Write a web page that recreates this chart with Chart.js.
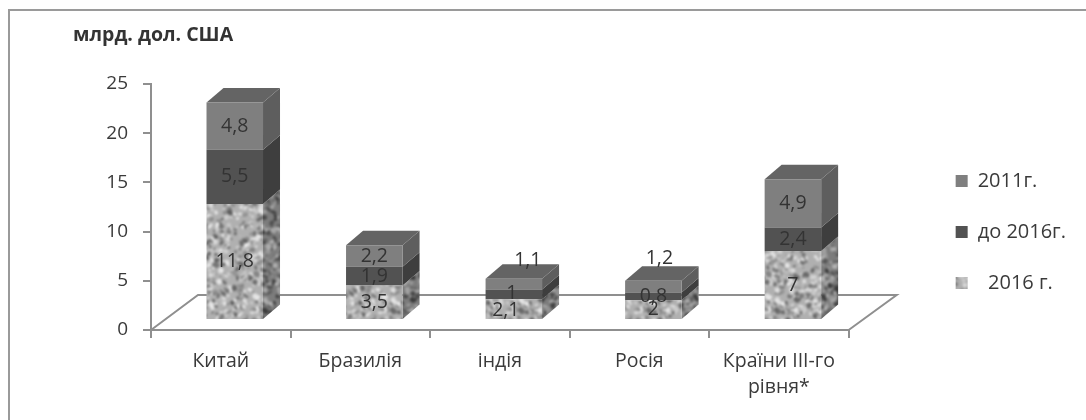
<!DOCTYPE html>
<html lang="uk">
<head>
<meta charset="utf-8">
<title>Обсяги, млрд. дол. США</title>
<style>
  html, body { margin: 0; padding: 0; background: #fff; }
  #wrap { position: relative; width: 1086px; height: 420px; }
  canvas { display: block; }
</style>
<script src="https://cdn.jsdelivr.net/npm/chart.js@4/dist/chart.umd.js"></script>
</head>
<body>
<div id="wrap"><canvas id="chart" width="1086" height="420"></canvas></div>
<script>
const categories = ['Китай', 'Бразилія', 'індія', 'Росія', ['Країни III-го', 'рівня*']];
const yTicks = [0, 5, 10, 15, 20, 25];
const values2016 = [11.8, 3.5, 2.1, 2, 7];
const valuesTo2016 = [5.5, 1.9, 1, 0.8, 2.4];
const values2011 = [4.8, 2.2, 1.1, 1.2, 4.9];

const unitTitle = 'млрд. дол. США';
const labelFont = '"Open Sans", sans-serif';
const axisGrey = '#8f8f8f';

// Depth of the 3D box: how far the rear edge sits from the front face.
const BOX_DX = 17, BOX_DY = 14.5;
// Shift of the bar fronts from the axis plane, and size of the floor.
const FRONT_DX = 14, FRONT_DY = 10;
const FLOOR_DX = 47, FLOOR_DY = 35;

// Hand-placed value labels, by dataset index then category index.
const labelNudges = {
  '0:2': [-8, 1],
  '1:2': [-2, -1],
  '2:2': [14, -24],
  '2:3': [6, -28]
};

// Mottled stone texture from a small seeded generator, softened after drawing.
function stonePattern(base, dark, light) {
  const size = 128;
  const raw = document.createElement('canvas');
  raw.width = raw.height = size;
  const g = raw.getContext('2d');
  g.fillStyle = base;
  g.fillRect(0, 0, size, size);
  let seed = 7321;
  const next = () => (seed = (seed * 1664525 + 1013904223) % 4294967296) / 4294967296;
  for (let i = 0; i < 1000; i++) {
    g.fillStyle = next() < 0.5 ? dark : light;
    g.globalAlpha = 0.3 + next() * 0.55;
    const x = next() * size, y = next() * size, r = 1 + next() * 2.2;
    const ry = r * (0.5 + next() * 0.5), rot = next() * 3;
    for (const ox of [-size, 0, size]) for (const oy of [-size, 0, size]) {
      g.beginPath();
      g.ellipse(x + ox, y + oy, r, ry, rot, 0, 7);
      g.fill();
    }
  }
  // tile the pattern on a larger sheet, blur it once, keep the middle tile
  const sheet = document.createElement('canvas');
  sheet.width = sheet.height = size * 3;
  const s = sheet.getContext('2d');
  s.fillStyle = s.createPattern(raw, 'repeat');
  s.filter = 'blur(0.8px)';
  s.fillRect(0, 0, size * 3, size * 3);
  const c = document.createElement('canvas');
  c.width = c.height = size;
  const soft = c.getContext('2d');
  soft.drawImage(sheet, -size, -size);
  return soft.createPattern(c, 'repeat');
}

const ctx = document.getElementById('chart').getContext('2d');
const stoneFront = stonePattern('#b0b0b0', '#5a5a5a', '#f0f0f0');
const stoneSide = stonePattern('#7c7c7c', '#303030', '#b8b8b8');

function face(c, pts, fill) {
  c.beginPath();
  pts.forEach((p, i) => (i ? c.lineTo(p[0], p[1]) : c.moveTo(p[0], p[1])));
  c.closePath();
  c.fillStyle = fill;
  c.fill();
}

const box3d = {
  id: 'box3d',
  beforeDatasetsDraw(chart) {
    const c = chart.ctx, a = chart.chartArea;
    // floor of the plot
    c.save();
    c.strokeStyle = axisGrey;
    c.lineWidth = 2;
    c.beginPath();
    c.moveTo(a.left, a.bottom);
    c.lineTo(a.left + FLOOR_DX, a.bottom - FLOOR_DY);
    c.lineTo(a.right + FLOOR_DX + 1, a.bottom - FLOOR_DY);
    c.lineTo(a.right, a.bottom);
    c.stroke();
    c.restore();

    // side and top faces of every segment
    c.save();
    c.translate(FRONT_DX, -FRONT_DY);
    const n = chart.data.datasets.length;
    chart.data.datasets.forEach((ds, di) => {
      chart.getDatasetMeta(di).data.forEach(bar => {
        const p = bar.getProps(['x', 'y', 'base', 'width']);
        const r = p.x + p.width / 2, l = p.x - p.width / 2;
        face(c, [[r, p.y], [r + BOX_DX, p.y - BOX_DY], [r + BOX_DX, p.base - BOX_DY], [r, p.base]], ds.sideColor);
        if (di === n - 1) {
          face(c, [[l, p.y], [l + BOX_DX, p.y - BOX_DY], [r + BOX_DX, p.y - BOX_DY], [r, p.y]], ds.topColor);
        }
      });
    });
    c.restore();
    // the fronts share the same offset frame
    c.save();
    c.translate(FRONT_DX, -FRONT_DY);
  },
  afterDatasetsDraw(chart) {
    const c = chart.ctx;
    c.restore();
    // value labels and the unit caption
    c.save();
    c.font = '19.5px ' + labelFont;
    c.fillStyle = '#333333';
    c.textAlign = 'center';
    c.textBaseline = 'middle';
    chart.data.datasets.forEach((ds, di) => {
      chart.getDatasetMeta(di).data.forEach((bar, i) => {
        const p = bar.getProps(['x', 'y', 'base']);
        const nudge = labelNudges[di + ':' + i] || [0, 0];
        const text = String(ds.data[i]).replace('.', ',');
        c.fillText(text, p.x + FRONT_DX + nudge[0], (p.y + p.base) / 2 - FRONT_DY + nudge[1]);
      });
    });
    c.font = 'bold 19.5px ' + labelFont;
    c.fillStyle = '#333';
    c.textAlign = 'left';
    c.fillText(unitTitle, 73, 35);
    c.restore();
  },
  afterDraw(chart) {
    // outer frame: top and left rules only
    const c = chart.ctx;
    c.save();
    c.strokeStyle = '#9a9a9a';
    c.lineWidth = 2;
    c.beginPath();
    c.moveTo(9, 420);
    c.lineTo(9, 10);
    c.lineTo(1086, 10);
    c.stroke();
    c.restore();
  }
};

new Chart(ctx, {
  type: 'bar',
  data: {
    labels: categories,
    datasets: [
      { label: '  2016 г.', data: values2016, backgroundColor: stoneFront, sideColor: stoneSide, topColor: stoneSide },
      { label: 'до 2016г.', data: valuesTo2016, backgroundColor: '#525252', sideColor: '#3e3e3e', topColor: '#484848' },
      { label: '2011г.', data: values2011, backgroundColor: '#7f7f7f', sideColor: '#5e5e5e', topColor: '#646464' }
    ]
  },
  options: {
    responsive: false,
    animation: false,
    layout: { padding: { left: 0, top: 44, right: 10, bottom: 0 } },
    datasets: { bar: { categoryPercentage: 1, barPercentage: 0.405, clip: false } },
    plugins: {
      tooltip: { enabled: false },
      legend: {
        position: 'right',
        reverse: true,
        onClick: null,
        labels: {
          color: '#3a3a3a',
          font: { family: labelFont, size: 20 },
          boxWidth: 12,
          boxHeight: 12,
          padding: 31
        }
      }
    },
    scales: {
      x: {
        stacked: true,
        grid: { offset: true, drawOnChartArea: false, drawTicks: true, tickLength: 8, color: axisGrey, lineWidth: 2 },
        border: { color: axisGrey, width: 2 },
        ticks: { color: '#3a3a3a', padding: 10, maxRotation: 0, autoSkip: false, font: { family: labelFont, size: 19.5, lineHeight: 1.36 } },
        afterFit(s) { s.height = 90; }
      },
      y: {
        stacked: true,
        min: 0,
        max: 25,
        afterBuildTicks(s) { s.ticks = yTicks.map(v => ({ value: v })); },
        grid: { drawOnChartArea: false, drawTicks: true, tickLength: 8, color: axisGrey, lineWidth: 2 },
        border: { color: axisGrey, width: 2 },
        ticks: { color: '#3a3a3a', padding: 15, font: { family: labelFont, size: 19 } },
        afterFit(s) { s.width = 151; }
      },
      // empty axes reserve the band above the plot and the gap before the legend
      spacerTop: {
        position: 'top',
        display: true,
        grid: { display: false },
        border: { display: false },
        ticks: { display: false },
        afterFit(s) { s.height = 40; }
      },
      spacer: {
        position: 'right',
        display: true,
        grid: { display: false },
        border: { display: false },
        ticks: { display: false },
        afterFit(s) { s.width = 76; }
      }
    }
  },
  plugins: [box3d]
});
</script>
</body>
</html>
